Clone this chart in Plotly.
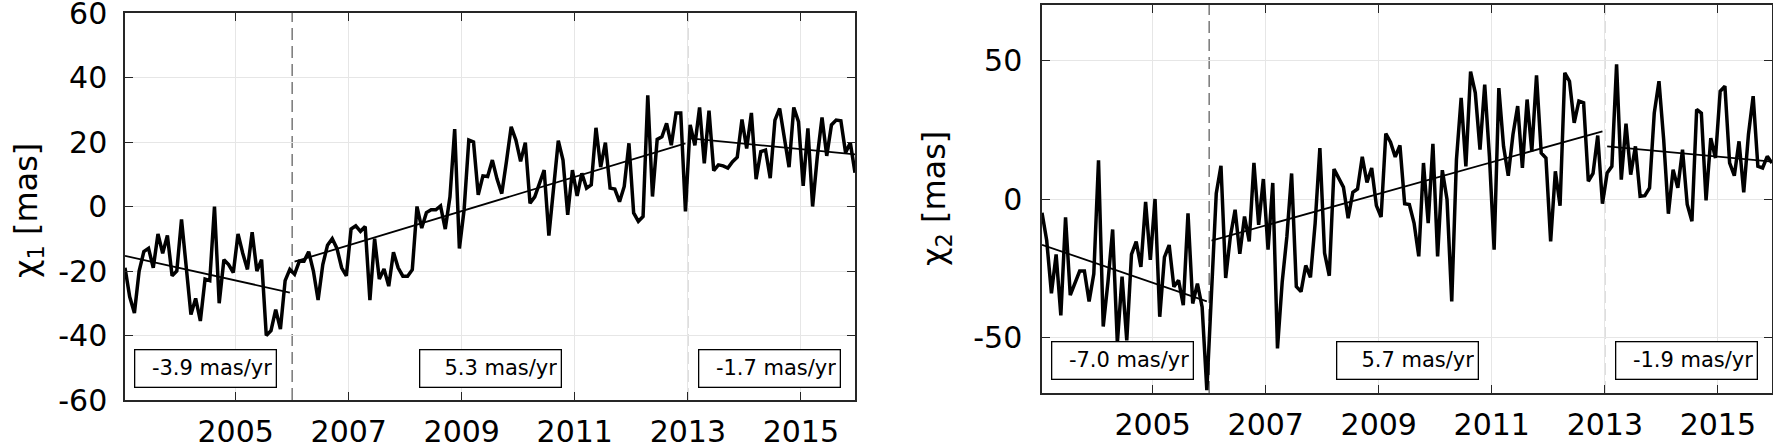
import numpy as np
import plotly.graph_objects as go

# monthly polar motion excitation residuals, Jan 2003 - Dec 2015 (mid-month epochs)
n_months = 156
t = 2003 + (np.arange(n_months) + 0.5) / 12

chi1 = [
    -19, -28, -33, -20, -14, -13, -19, -8.5, -14.5, -9, -21.5, -20,
    -4, -20, -33.5, -28.5, -35.5, -22.5, -23, 0, -30, -16.5, -18, -20.5,
    -8.5, -14.5, -19.5, -8, -20, -16.5, -40, -38.5, -32, -38, -23, -19.5,
    -21, -17, -17, -14, -20, -29, -18, -12, -10, -13, -19, -21.5,
    -7, -6, -7.7, -6.2, -29, -10, -22.5, -19.4, -24.7, -14.2, -19, -21.6,
    -21.6, -19.6, 0, -6.7, -1.9, -1, -1, 0.2, -7, 3, 24, -13,
    -1, 20.6, 20, 3.6, 9.5, 9.3, 14.4, 8.5, 4, 14, 24.7, 20.6,
    14, 19.8, 1, 3, 7.5, 11.3, -9, 5, 20.4, 14.4, -2.6, 11.3,
    3.3, 10.3, 5.7, 6.7, 24.4, 12.2, 19.8, 5.7, 5.4, 1.5, 6.2, 19.6,
    -2, -4.6, -3.1, 34.5, 3.1, 20.8, 21.6, 25.8, 19, 29, 29, -1.5,
    25.3, 19, 30.7, 13.4, 29.7, 11.1, 12.9, 12.6, 11.9, 13.9, 15.3, 27,
    18, 29, 8.5, 17, 17.5, 8.8, 26.8, 30.4, 20.6, 12.2, 30.7, 26.3,
    6.4, 24.2, 0, 15.5, 27.6, 15.7, 25.3, 26.8, 26.6, 16.7, 19.8, 10.5,
]

chi2 = [
    -5, -15, -34, -20, -42, -6.6, -34.7, -30, -26, -26, -37, -27,
    14, -46, -30, -11, -52, -28, -51, -20, -15.4, -24.5, -1, -22,
    0, -42.5, -21, -16.6, -31.7, -29.3, -38.3, -5.2, -37.7, -30.5, -39, -69,
    -30, 2, 12, -28.5, -13.5, -3.9, -19.8, -6.3, -15.3, 13, -9.3, 7.2,
    -18.3, 5.8, -53.9, -30, -13.5, 9.2, -31.6, -33.4, -24, -28.3, -8.7, 18.4,
    -19.5, -27.7, 10.8, 7.6, 4.3, -6.9, 2.4, 3.6, 15.2, 6, 11.2, -2.4,
    -6.5, 23.6, 20.5, 15.2, 19.3, -1.7, -2, -8.7, -20.7, 13, -8.7, 19.9,
    -20.7, 10.4, -0.2, -37, 14.2, 36.5, 11.8, 46, 38.3, 17.8, 41.3, 15.4,
    -18.3, 40, 19, 8.4, 23.3, 33.5, 11.2, 35.9, 17.2, 44.6, 16.6, 14.8,
    -15.3, 10, -2.4, 45.5, 42.5, 27.5, 35.3, 34.7, 6.4, 9.2, 22.9, -1.7,
    9.4, 11.8, 48.6, 7, 27.2, 8.8, 19, 1, 1.2, 4, 31, 42.5,
    21.4, -5.3, 10.6, 4, 17.8, -2, -8, 32.3, 31, -0.5, 22, 14.8,
    38.9, 40.7, 13, 8.4, 20.8, 2.4, 23.3, 37.1, 11.8, 11.2, 15.4, 13,
]

# piecewise linear trends: rate [mas/yr] and value at the first epoch of each segment
breaks = [2003, 2006, 2013, 2016]
chi1_rates = [-3.9, 5.3, -1.7]
chi1_start = [-15.3, -17.1, 21.1]
chi2_rates = [-7.0, 5.7, -1.9]
chi2_start = [-16.5, -15.0, 19.0]

year_ticks = [2005, 2007, 2009, 2011, 2013, 2015]
chi1_ticks = [-60, -40, -20, 0, 20, 40, 60]
chi2_ticks = [-50, 0, 50]

FONT = "DejaVu Sans"
W, H = 1773, 445

fig = go.Figure()

panels = [
    ("x", "y", chi1, chi1_rates, chi1_start, -50.2, "χ<sub>1</sub> [mas]", 28, 211),
    ("x2", "y2", chi2, chi2_rates, chi2_start, -58.3, "χ<sub>2</sub> [mas]", 936, 199),
]
label_x = [2004.47, 2009.5, 2014.45]

for xa, ya, series, rates, starts, lab_y, ytitle, tx, ty in panels:
    fig.add_trace(go.Scatter(x=t, y=series, mode="lines", xaxis=xa, yaxis=ya,
                             line=dict(color="black", width=3.5), showlegend=False))
    for k in range(3):
        m = (t > breaks[k]) & (t < breaks[k + 1])
        ts = t[m]
        fig.add_trace(go.Scatter(x=ts, y=starts[k] + rates[k] * (ts - ts[0]),
                                 mode="lines", xaxis=xa, yaxis=ya,
                                 line=dict(color="black", width=1.8), showlegend=False))
        fig.add_annotation(x=label_x[k], y=lab_y, xref=xa, yref=ya,
                           text=f"{rates[k]:.1f} mas/yr", showarrow=False,
                           width=134, height=30, align="right", valign="middle",
                           bgcolor="white", bordercolor="black", borderwidth=1.3, borderpad=3,
                           font=dict(family=FONT, size=21, color="black"))
    for b, wd, col in [(2006, 1.6, "#808080"), (2013, 1.0, "#909090")]:
        fig.add_shape(type="line", x0=b, x1=b, y0=0, y1=1, xref=xa, yref=ya + " domain",
                      line=dict(color=col, width=wd, dash="12px,6px"), layer="below")
    fig.add_annotation(x=tx / W, y=1 - ty / H, xref="paper", yref="paper",
                       xanchor="center", yanchor="middle",
                       text=ytitle, textangle=-90, showarrow=False,
                       font=dict(family=FONT, size=32, color="black"))

axis_common = dict(showline=True, linecolor="#262626", linewidth=1.5, mirror="ticks",
                   ticks="inside", ticklen=8, tickwidth=1.3, tickcolor="#262626",
                   showgrid=True, gridcolor="#e6e6e6", gridwidth=1, zeroline=False,
                   ticklabeloverflow="allow",
                   tickfont=dict(family=FONT, size=30, color="black"), automargin=False)

xt = dict(tickvals=year_ticks, ticktext=[str(v) for v in year_ticks],
          range=[t[0], t[-1]], ticklabelstandoff=4)

fig.update_layout(
    width=W, height=H,
    margin=dict(l=0, r=0, t=0, b=0),
    paper_bgcolor="white", plot_bgcolor="white",
    xaxis=dict(domain=[125 / W, 855 / W], anchor="y", **xt, **axis_common),
    yaxis=dict(domain=[1 - 400 / H, 1 - 13 / H], anchor="x", range=[-60, 60],
               tickvals=chi1_ticks, ticktext=[str(v) for v in chi1_ticks],
               ticklabelstandoff=10, **axis_common),
    xaxis2=dict(domain=[1042 / W, 1772 / W], anchor="y2", **xt, **axis_common),
    yaxis2=dict(domain=[1 - 393 / H, 1 - 5 / H], anchor="x2", range=[-70, 70],
                tickvals=chi2_ticks, ticktext=[str(v) for v in chi2_ticks],
                ticklabelstandoff=12, **axis_common),
)

fig.write_html("out.html", config={"displayModeBar": False},
               post_script="document.body.style.margin='0';")
